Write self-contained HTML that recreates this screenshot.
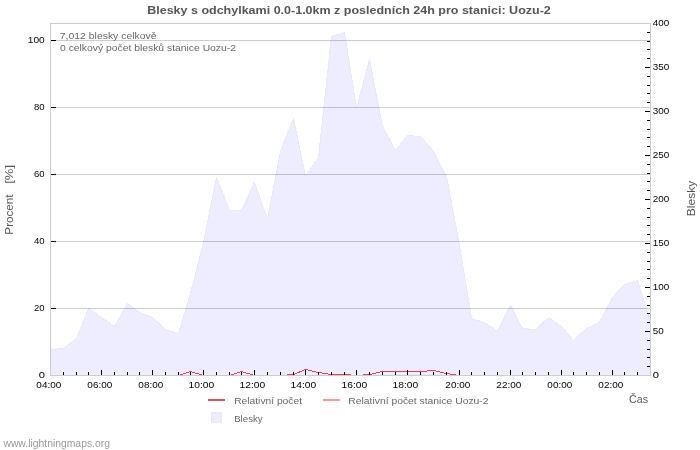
<!DOCTYPE html><html><head><meta charset="utf-8"><style>html,body{margin:0;padding:0;background:#fff;width:700px;height:450px;overflow:hidden}svg{display:block;will-change:transform}text{font-family:"Liberation Sans",sans-serif}</style></head><body>
<svg width="700" height="450" viewBox="0 0 700 450">
<rect width="700" height="450" fill="#fff"/>
<polygon points="50.5,375.5 50.5,349.5 63.5,348.5 76.5,338.5 88.5,308.5 101.5,317.5 114.5,326.5 127.5,303.5 139.5,312.5 152.5,317.5 165.5,329.5 178.5,333.5 190.5,293.5 203.5,242.5 216.5,177.5 229.5,210.5 241.5,210.5 254.5,182.5 267.5,219.5 280.5,151.5 293.5,118.5 305.5,176.5 318.5,157.5 331.5,36.5 344.5,32.5 356.5,108.5 369.5,59.5 382.5,126.5 395.5,150.5 407.5,135.5 420.5,136.5 433.5,151.5 446.5,176.5 459.5,245.5 471.5,318.5 484.5,322.5 497.5,331.5 510.5,305.5 522.5,328.5 535.5,329.5 548.5,317.5 561.5,326.5 573.5,340.5 586.5,328.5 599.5,322.5 612.5,297.5 624.5,284.5 637.5,280.5 650.5,322.5 650.5,375.5" fill="#ededff" stroke="#e7e7ff" stroke-width="1" stroke-linejoin="bevel" shape-rendering="crispEdges"/>
<rect x="51" y="40" width="599" height="1" fill="#000" fill-opacity="0.2"/>
<rect x="51" y="107" width="599" height="1" fill="#000" fill-opacity="0.2"/>
<rect x="51" y="174" width="599" height="1" fill="#000" fill-opacity="0.2"/>
<rect x="51" y="241" width="599" height="1" fill="#000" fill-opacity="0.2"/>
<rect x="51" y="308" width="599" height="1" fill="#000" fill-opacity="0.2"/>
<polyline points="165.5,375.5 178.5,375.5 190.5,371.5 203.5,375.5 216.5,375.5 229.5,375.5 241.5,371.5 254.5,375.5 267.5,375.5 280.5,375.5 293.5,374.5 305.5,369.5 318.5,372.5 331.5,374.5 344.5,374.5 356.5,375.5 369.5,374.5 382.5,371.5 395.5,371.5 407.5,371.5 420.5,371.5 433.5,370.5 446.5,373.5 459.5,375.5 471.5,375.5" fill="none" stroke="#e0405a" stroke-width="1" shape-rendering="crispEdges"/>
<rect x="50" y="23" width="1" height="353" fill="#cccccc"/>
<rect x="650" y="23" width="1" height="353" fill="#cccccc"/>
<rect x="50" y="23" width="601" height="1" fill="#cccccc"/>
<rect x="50" y="375" width="601" height="1" fill="#cccccc"/>
<rect x="51" y="40" width="5" height="1" fill="#000"/>
<rect x="51" y="107" width="5" height="1" fill="#000"/>
<rect x="51" y="174" width="5" height="1" fill="#000"/>
<rect x="51" y="241" width="5" height="1" fill="#000"/>
<rect x="51" y="308" width="5" height="1" fill="#000"/>
<rect x="647" y="366" width="3" height="1" fill="#000"/>
<rect x="647" y="357" width="3" height="1" fill="#000"/>
<rect x="647" y="349" width="3" height="1" fill="#000"/>
<rect x="647" y="340" width="3" height="1" fill="#000"/>
<rect x="645" y="331" width="5" height="1" fill="#000"/>
<rect x="647" y="322" width="3" height="1" fill="#000"/>
<rect x="647" y="313" width="3" height="1" fill="#000"/>
<rect x="647" y="305" width="3" height="1" fill="#000"/>
<rect x="647" y="296" width="3" height="1" fill="#000"/>
<rect x="645" y="287" width="5" height="1" fill="#000"/>
<rect x="647" y="278" width="3" height="1" fill="#000"/>
<rect x="647" y="269" width="3" height="1" fill="#000"/>
<rect x="647" y="261" width="3" height="1" fill="#000"/>
<rect x="647" y="252" width="3" height="1" fill="#000"/>
<rect x="645" y="243" width="5" height="1" fill="#000"/>
<rect x="647" y="234" width="3" height="1" fill="#000"/>
<rect x="647" y="225" width="3" height="1" fill="#000"/>
<rect x="647" y="217" width="3" height="1" fill="#000"/>
<rect x="647" y="208" width="3" height="1" fill="#000"/>
<rect x="645" y="199" width="5" height="1" fill="#000"/>
<rect x="647" y="190" width="3" height="1" fill="#000"/>
<rect x="647" y="181" width="3" height="1" fill="#000"/>
<rect x="647" y="173" width="3" height="1" fill="#000"/>
<rect x="647" y="164" width="3" height="1" fill="#000"/>
<rect x="645" y="155" width="5" height="1" fill="#000"/>
<rect x="647" y="146" width="3" height="1" fill="#000"/>
<rect x="647" y="137" width="3" height="1" fill="#000"/>
<rect x="647" y="129" width="3" height="1" fill="#000"/>
<rect x="647" y="120" width="3" height="1" fill="#000"/>
<rect x="645" y="111" width="5" height="1" fill="#000"/>
<rect x="647" y="102" width="3" height="1" fill="#000"/>
<rect x="647" y="93" width="3" height="1" fill="#000"/>
<rect x="647" y="85" width="3" height="1" fill="#000"/>
<rect x="647" y="76" width="3" height="1" fill="#000"/>
<rect x="645" y="67" width="5" height="1" fill="#000"/>
<rect x="647" y="58" width="3" height="1" fill="#000"/>
<rect x="647" y="49" width="3" height="1" fill="#000"/>
<rect x="647" y="41" width="3" height="1" fill="#000"/>
<rect x="647" y="32" width="3" height="1" fill="#000"/>
<rect x="63" y="372" width="1" height="3" fill="#000"/>
<rect x="76" y="372" width="1" height="3" fill="#000"/>
<rect x="88" y="372" width="1" height="3" fill="#000"/>
<rect x="101" y="370" width="1" height="5" fill="#000"/>
<rect x="114" y="372" width="1" height="3" fill="#000"/>
<rect x="127" y="372" width="1" height="3" fill="#000"/>
<rect x="139" y="372" width="1" height="3" fill="#000"/>
<rect x="152" y="370" width="1" height="5" fill="#000"/>
<rect x="165" y="372" width="1" height="3" fill="#000"/>
<rect x="178" y="372" width="1" height="3" fill="#000"/>
<rect x="190" y="372" width="1" height="3" fill="#000"/>
<rect x="203" y="370" width="1" height="5" fill="#000"/>
<rect x="216" y="372" width="1" height="3" fill="#000"/>
<rect x="229" y="372" width="1" height="3" fill="#000"/>
<rect x="241" y="372" width="1" height="3" fill="#000"/>
<rect x="254" y="370" width="1" height="5" fill="#000"/>
<rect x="267" y="372" width="1" height="3" fill="#000"/>
<rect x="280" y="372" width="1" height="3" fill="#000"/>
<rect x="293" y="372" width="1" height="3" fill="#000"/>
<rect x="305" y="370" width="1" height="5" fill="#000"/>
<rect x="318" y="372" width="1" height="3" fill="#000"/>
<rect x="331" y="372" width="1" height="3" fill="#000"/>
<rect x="344" y="372" width="1" height="3" fill="#000"/>
<rect x="356" y="370" width="1" height="5" fill="#000"/>
<rect x="369" y="372" width="1" height="3" fill="#000"/>
<rect x="382" y="372" width="1" height="3" fill="#000"/>
<rect x="395" y="372" width="1" height="3" fill="#000"/>
<rect x="407" y="370" width="1" height="5" fill="#000"/>
<rect x="420" y="372" width="1" height="3" fill="#000"/>
<rect x="433" y="372" width="1" height="3" fill="#000"/>
<rect x="446" y="372" width="1" height="3" fill="#000"/>
<rect x="459" y="370" width="1" height="5" fill="#000"/>
<rect x="471" y="372" width="1" height="3" fill="#000"/>
<rect x="484" y="372" width="1" height="3" fill="#000"/>
<rect x="497" y="372" width="1" height="3" fill="#000"/>
<rect x="510" y="370" width="1" height="5" fill="#000"/>
<rect x="522" y="372" width="1" height="3" fill="#000"/>
<rect x="535" y="372" width="1" height="3" fill="#000"/>
<rect x="548" y="372" width="1" height="3" fill="#000"/>
<rect x="561" y="370" width="1" height="5" fill="#000"/>
<rect x="573" y="372" width="1" height="3" fill="#000"/>
<rect x="586" y="372" width="1" height="3" fill="#000"/>
<rect x="599" y="372" width="1" height="3" fill="#000"/>
<rect x="612" y="370" width="1" height="5" fill="#000"/>
<rect x="624" y="372" width="1" height="3" fill="#000"/>
<rect x="637" y="372" width="1" height="3" fill="#000"/>
<text x="147.20" y="13.70" font-size="11.5" fill="#555" text-anchor="start" font-weight="bold" textLength="403.61" lengthAdjust="spacingAndGlyphs">Blesky s odchylkami 0.0-1.0km z posledních 24h pro stanici: Uozu-2</text>
<text x="59.84" y="39.00" font-size="9.5" fill="#666" text-anchor="start" font-weight="normal" textLength="96.67" lengthAdjust="spacingAndGlyphs">7,012 blesky celkově</text>
<text x="60.00" y="51.00" font-size="9.5" fill="#666" text-anchor="start" font-weight="normal" textLength="176.00" lengthAdjust="spacingAndGlyphs">0 celkový počet blesků stanice Uozu-2</text>
<text x="27.78" y="43.00" font-size="9.8" fill="#000" text-anchor="start" font-weight="normal" textLength="16.95" lengthAdjust="spacingAndGlyphs">100</text>
<text x="34.04" y="110.00" font-size="9.8" fill="#000" text-anchor="start" font-weight="normal" textLength="10.62" lengthAdjust="spacingAndGlyphs">80</text>
<text x="34.04" y="177.00" font-size="9.8" fill="#000" text-anchor="start" font-weight="normal" textLength="10.62" lengthAdjust="spacingAndGlyphs">60</text>
<text x="34.04" y="244.00" font-size="9.8" fill="#000" text-anchor="start" font-weight="normal" textLength="10.62" lengthAdjust="spacingAndGlyphs">40</text>
<text x="34.04" y="311.00" font-size="9.8" fill="#000" text-anchor="start" font-weight="normal" textLength="10.62" lengthAdjust="spacingAndGlyphs">20</text>
<text x="38.66" y="378.00" font-size="9.8" fill="#000" text-anchor="start" font-weight="normal" textLength="6.24" lengthAdjust="spacingAndGlyphs">0</text>
<text x="652.66" y="378.00" font-size="9.8" fill="#000" text-anchor="start" font-weight="normal" textLength="6.24" lengthAdjust="spacingAndGlyphs">0</text>
<text x="652.66" y="334.00" font-size="9.8" fill="#000" text-anchor="start" font-weight="normal" textLength="11.00" lengthAdjust="spacingAndGlyphs">50</text>
<text x="652.66" y="290.00" font-size="9.8" fill="#000" text-anchor="start" font-weight="normal" textLength="16.53" lengthAdjust="spacingAndGlyphs">100</text>
<text x="652.66" y="246.00" font-size="9.8" fill="#000" text-anchor="start" font-weight="normal" textLength="16.53" lengthAdjust="spacingAndGlyphs">150</text>
<text x="652.66" y="202.00" font-size="9.8" fill="#000" text-anchor="start" font-weight="normal" textLength="16.53" lengthAdjust="spacingAndGlyphs">200</text>
<text x="652.66" y="158.00" font-size="9.8" fill="#000" text-anchor="start" font-weight="normal" textLength="16.53" lengthAdjust="spacingAndGlyphs">250</text>
<text x="652.66" y="114.00" font-size="9.8" fill="#000" text-anchor="start" font-weight="normal" textLength="16.53" lengthAdjust="spacingAndGlyphs">300</text>
<text x="652.66" y="70.00" font-size="9.8" fill="#000" text-anchor="start" font-weight="normal" textLength="16.53" lengthAdjust="spacingAndGlyphs">350</text>
<text x="652.66" y="26.00" font-size="9.8" fill="#000" text-anchor="start" font-weight="normal" textLength="16.53" lengthAdjust="spacingAndGlyphs">400</text>
<text x="36.36" y="388.00" font-size="9.8" fill="#000" text-anchor="start" font-weight="normal" textLength="24.89" lengthAdjust="spacingAndGlyphs">04:00</text>
<text x="87.36" y="388.00" font-size="9.8" fill="#000" text-anchor="start" font-weight="normal" textLength="24.89" lengthAdjust="spacingAndGlyphs">06:00</text>
<text x="138.36" y="388.00" font-size="9.8" fill="#000" text-anchor="start" font-weight="normal" textLength="24.89" lengthAdjust="spacingAndGlyphs">08:00</text>
<text x="188.56" y="388.00" font-size="9.8" fill="#000" text-anchor="start" font-weight="normal" textLength="25.72" lengthAdjust="spacingAndGlyphs">10:00</text>
<text x="239.56" y="388.00" font-size="9.8" fill="#000" text-anchor="start" font-weight="normal" textLength="25.72" lengthAdjust="spacingAndGlyphs">12:00</text>
<text x="290.56" y="388.00" font-size="9.8" fill="#000" text-anchor="start" font-weight="normal" textLength="25.72" lengthAdjust="spacingAndGlyphs">14:00</text>
<text x="341.56" y="388.00" font-size="9.8" fill="#000" text-anchor="start" font-weight="normal" textLength="25.72" lengthAdjust="spacingAndGlyphs">16:00</text>
<text x="392.56" y="388.00" font-size="9.8" fill="#000" text-anchor="start" font-weight="normal" textLength="25.72" lengthAdjust="spacingAndGlyphs">18:00</text>
<text x="445.36" y="388.00" font-size="9.8" fill="#000" text-anchor="start" font-weight="normal" textLength="24.89" lengthAdjust="spacingAndGlyphs">20:00</text>
<text x="496.36" y="388.00" font-size="9.8" fill="#000" text-anchor="start" font-weight="normal" textLength="24.89" lengthAdjust="spacingAndGlyphs">22:00</text>
<text x="547.36" y="388.00" font-size="9.8" fill="#000" text-anchor="start" font-weight="normal" textLength="24.89" lengthAdjust="spacingAndGlyphs">00:00</text>
<text x="598.36" y="388.00" font-size="9.8" fill="#000" text-anchor="start" font-weight="normal" textLength="24.89" lengthAdjust="spacingAndGlyphs">02:00</text>
<text transform="translate(12.80,234.64) rotate(-90)" font-size="10" fill="#555" textLength="40.17" lengthAdjust="spacingAndGlyphs">Procent</text>
<text transform="translate(12.80,183.76) rotate(-90)" font-size="10" fill="#555" textLength="18.82" lengthAdjust="spacingAndGlyphs">[%]</text>
<text transform="translate(695.00,216.14) rotate(-90)" font-size="10" fill="#555" textLength="35.37" lengthAdjust="spacingAndGlyphs">Blesky</text>
<text x="234.16" y="403.70" font-size="9.5" fill="#666" text-anchor="start" font-weight="normal" textLength="67.86" lengthAdjust="spacingAndGlyphs">Relativní počet</text>
<text x="348.28" y="403.70" font-size="9.5" fill="#666" text-anchor="start" font-weight="normal" textLength="140.30" lengthAdjust="spacingAndGlyphs">Relativní počet stanice Uozu-2</text>
<text x="234.16" y="421.70" font-size="9.5" fill="#666" text-anchor="start" font-weight="normal" textLength="28.55" lengthAdjust="spacingAndGlyphs">Blesky</text>
<text x="629.08" y="402.50" font-size="11" fill="#555" text-anchor="start" font-weight="normal" textLength="19.03" lengthAdjust="spacingAndGlyphs">Čas</text>
<text x="3.42" y="447.10" font-size="10" fill="#999" text-anchor="start" font-weight="normal" textLength="106.52" lengthAdjust="spacingAndGlyphs">www.lightningmaps.org</text>
<rect x="208" y="399" width="17" height="2" fill="#e4505c"/>
<rect x="323" y="399" width="17" height="2" fill="#ff9898"/>
<rect x="211.5" y="412.5" width="10" height="10" fill="#ededff" stroke="#e7e7ff" stroke-width="1" stroke-linejoin="bevel" shape-rendering="crispEdges"/>
</svg></body></html>
